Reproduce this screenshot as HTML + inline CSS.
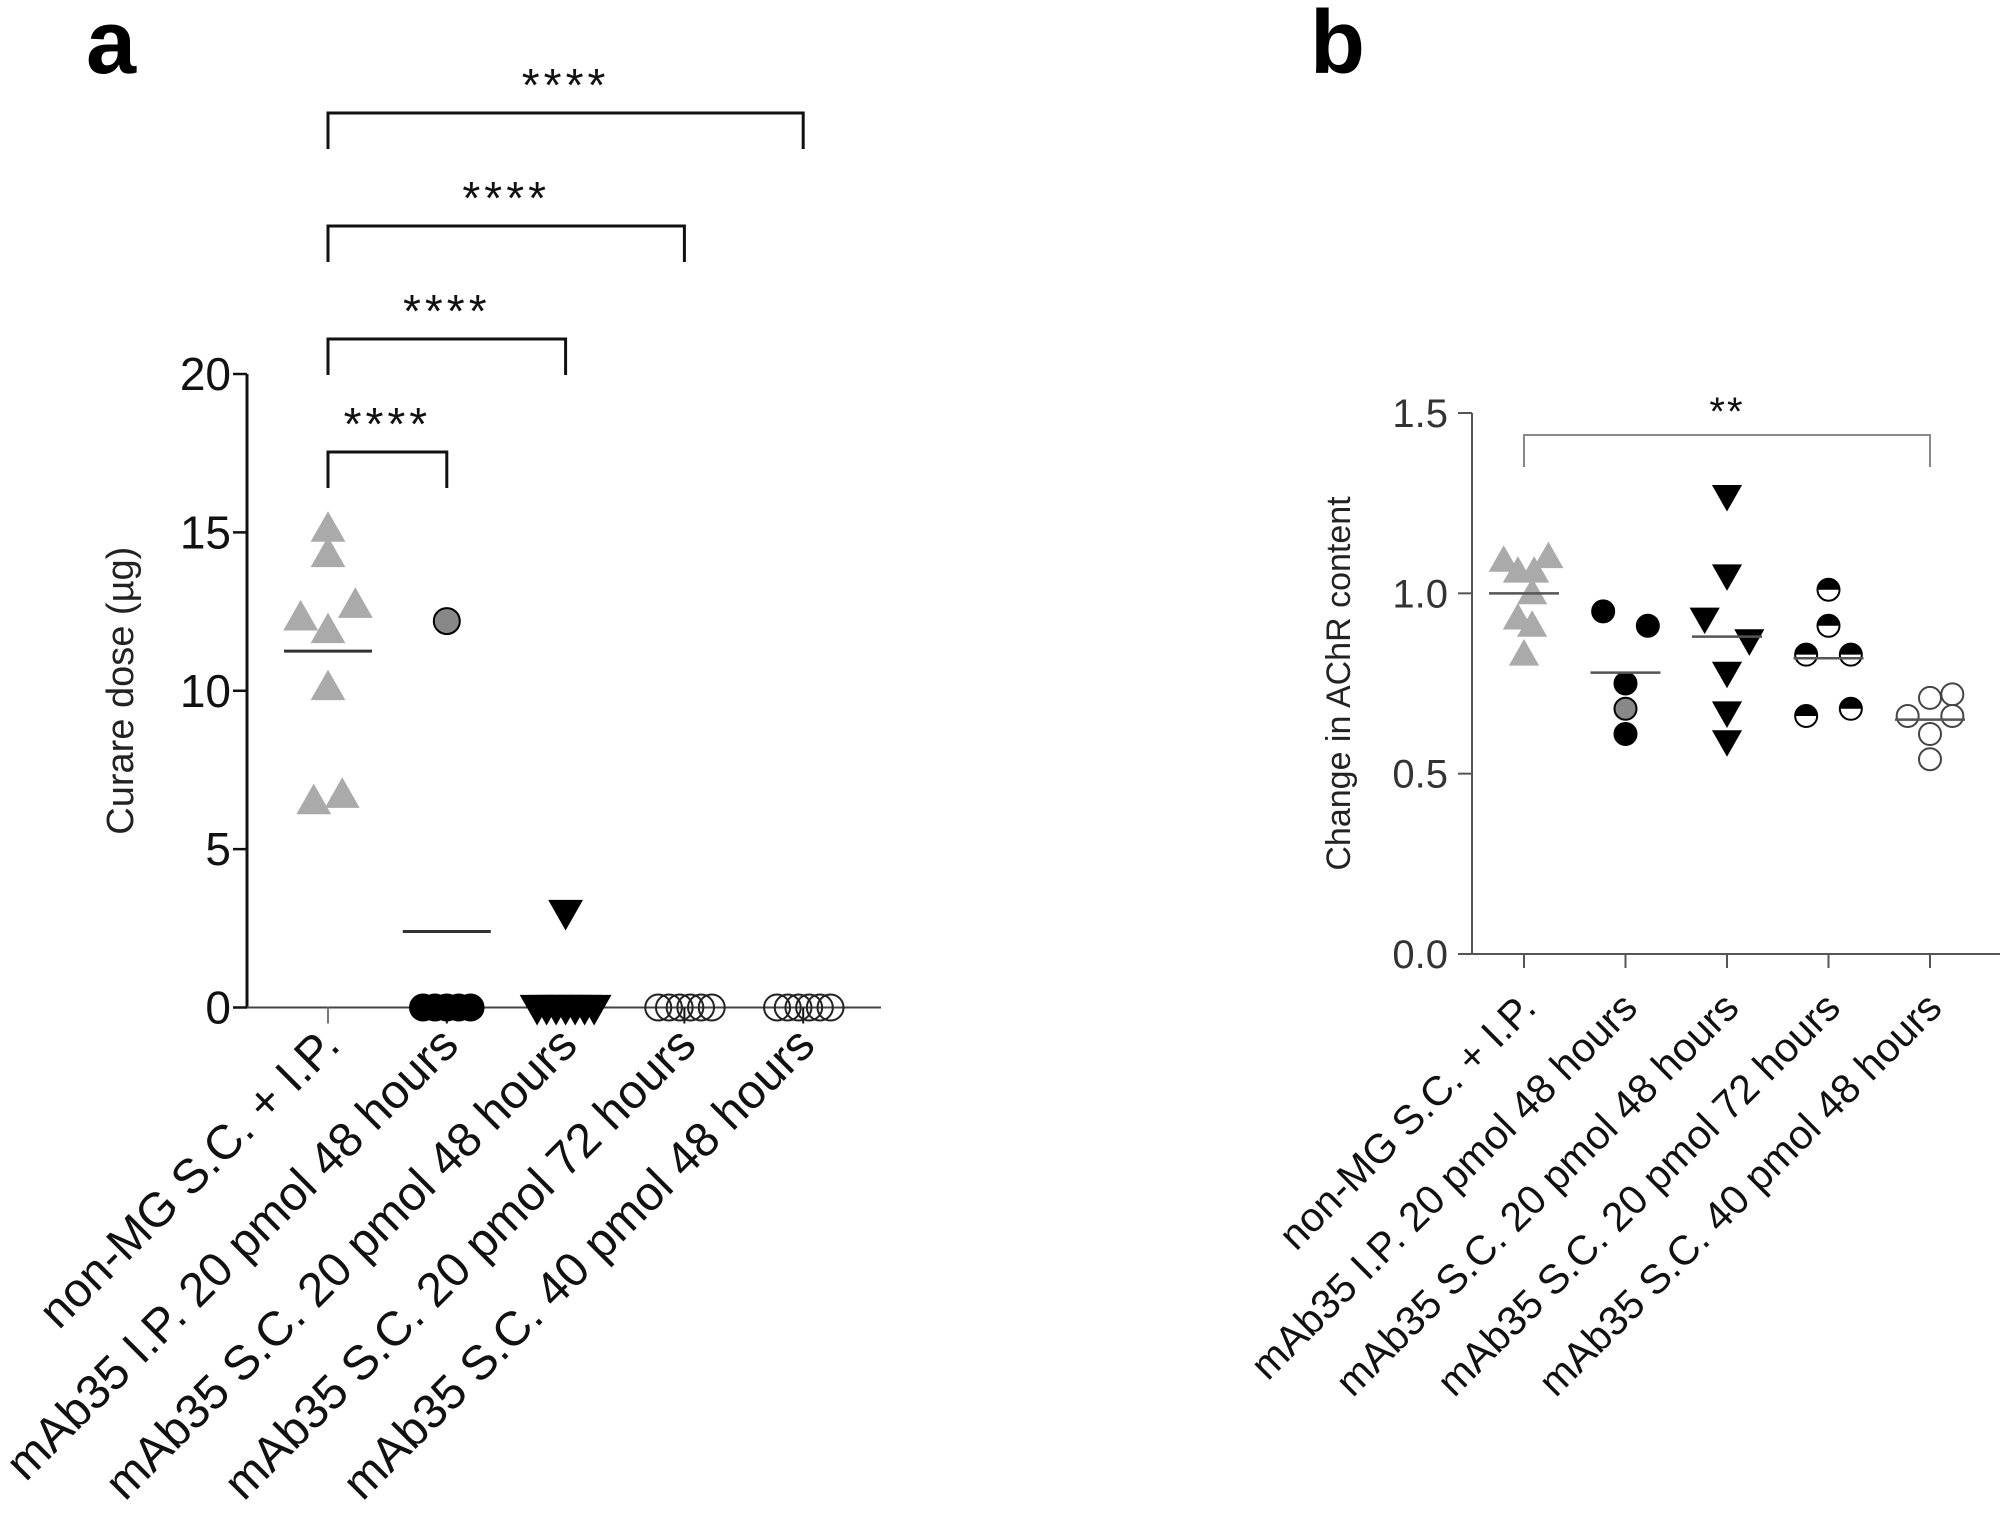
<!DOCTYPE html>
<html><head><meta charset="utf-8"><style>
html,body{margin:0;padding:0;background:#fff;}
svg{display:block;font-family:"Liberation Sans",Arial,sans-serif;}
</style></head><body>
<svg id="fig" width="2008" height="1536" viewBox="0 0 2008 1536">
<text x="86" y="73" font-size="90" font-weight="bold">a</text>
<text x="1310" y="73" font-size="90" font-weight="bold">b</text>
<g id="pa"></g>
<g id="pb"></g>
</svg>
<script>
const categories = ["non-MG S.C. + I.P.","mAb35 I.P. 20 pmol 48 hours","mAb35 S.C. 20 pmol 48 hours","mAb35 S.C. 20 pmol 72 hours","mAb35 S.C. 40 pmol 48 hours"];
// Panel a values (curare dose, µg)
const aG1 = [15.1,14.3,12.3,11.9,12.7,10.1,6.5,6.7];
const aG2 = [12.2,0,0,0,0,0];
const aG3 = [3.0,0,0,0,0,0,0,0];
const aG4 = [0,0,0,0,0,0];
const aG5 = [0,0,0,0,0,0];
const aMeans = [11.25,2.4,0.4,0,0];
const aTicks = [0,5,10,15,20];
const aSig = ["****","****","****","****"];
// Panel b values (change in AChR content)
const bG1 = [1.09,1.06,1.06,1.10,1.0,0.93,0.91,0.83];
const bG2 = [0.95,0.91,0.75,0.68,0.61];
const bG3 = [1.27,1.05,0.93,0.87,0.78,0.67,0.59];
const bG4 = [1.01,0.91,0.83,0.83,0.66,0.68];
const bG5 = [0.71,0.72,0.66,0.66,0.61,0.54];
const bMeans = [1.0,0.78,0.88,0.82,0.65];
const bTicks = [0,0.5,1.0,1.5];
const bTickLabels = ["0.0","0.5","1.0","1.5"];
// jitter (fraction of category spacing)
const aJit = [[0,0,-0.23,0,0.23,0,-0.12,0.12],[0,-0.2,-0.1,0,0.1,0.2],[0,-0.24,-0.16,-0.08,0,0.08,0.16,0.24],[-0.22,-0.13,-0.04,0.05,0.14,0.23],[-0.22,-0.13,-0.04,0.05,0.14,0.23]];
const bJit = [[-0.2,-0.06,0.1,0.24,0.08,-0.06,0.08,0],[-0.22,0.22,0,0,0],[0,0,-0.22,0.22,0,0,0],[0,0,-0.22,0.22,-0.22,0.22],[0,0.22,-0.22,0.22,0,0]];

const NS="http://www.w3.org/2000/svg";
function mk(parent,tag,attrs,txt){const e=document.createElementNS(NS,tag);for(const k in attrs)e.setAttribute(k,attrs[k]);if(txt!==undefined)e.textContent=txt;parent.appendChild(e);return e;}

// ---------- Panel A ----------
const pa=document.getElementById('pa');
const aX0=247,aX1=881,aYTop=374,aYBot=1007.5,aCatX0=328,aCatStep=118.8;
const ay=v=>aYBot-(v/20)*(aYBot-aYTop);
const ax=i=>aCatX0+i*aCatStep;
let e;
e=mk(pa,'line',{x1:aX0,y1:aYTop,x2:aX0,y2:aYBot,stroke:'#111','stroke-width':3});

e=mk(pa,'line',{x1:aX0,y1:aYBot,x2:aX1,y2:aYBot,stroke:'#444','stroke-width':2});

aTicks.forEach(t=>{
  mk(pa,'line',{x1:aX0-14,y1:ay(t),x2:aX0,y2:ay(t),stroke:'#111','stroke-width':2.5});
  e=mk(pa,'text',{x:aX0-16,y:ay(t)+16,'font-size':46,'text-anchor':'end',fill:'#111'},String(t));
  
});
e=mk(pa,'text',{transform:`translate(133,${(aYTop+aYBot)/2+0}) rotate(-90)`,'font-size':38,'text-anchor':'middle',fill:'#222'},'Curare dose (µg)');

categories.forEach((c,i)=>{
  mk(pa,'line',{x1:ax(i),y1:aYBot,x2:ax(i),y2:aYBot+16,stroke:i==0?'#777':'#111','stroke-width':2});
  e=mk(pa,'text',{transform:`translate(${ax(i)+14},${aYBot+40}) rotate(-45)`,'font-size':48,'text-anchor':'end',fill:'#111'},c);
  
});
function triUp(g,x,y,s,fill){return mk(g,'path',{d:`M${x},${y-s*0.6} L${x+s*0.58},${y+s*0.42} L${x-s*0.58},${y+s*0.42} Z`,fill:fill});}
function triDn(g,x,y,s,fill){return mk(g,'path',{d:`M${x},${y+s*0.6} L${x+s*0.58},${y-s*0.42} L${x-s*0.58},${y-s*0.42} Z`,fill:fill});}
aG1.forEach((v,j)=>{e=triUp(pa,ax(0)+aJit[0][j]*aCatStep,ay(v),30,'#aaa');});
aG2.forEach((v,j)=>{e=mk(pa,'circle',{cx:ax(1)+aJit[1][j]*aCatStep,cy:ay(v),r:13,fill:j==0?'#888':'#000',stroke:'#000','stroke-width':2});});
aG3.forEach((v,j)=>{e=triDn(pa,ax(2)+aJit[2][j]*aCatStep,ay(v),30,'#000');});
aG4.forEach((v,j)=>{e=mk(pa,'circle',{cx:ax(3)+aJit[3][j]*aCatStep,cy:ay(v),r:13,fill:'none',stroke:'#222','stroke-width':2});});
aG5.forEach((v,j)=>{e=mk(pa,'circle',{cx:ax(4)+aJit[4][j]*aCatStep,cy:ay(v),r:13,fill:'none',stroke:'#222','stroke-width':2});});
aMeans.forEach((m,i)=>{if(m>0.5){e=mk(pa,'line',{x1:ax(i)-44,y1:ay(m),x2:ax(i)+44,y2:ay(m),stroke:'#333','stroke-width':3});}});
const aBrY=[452,339,226,113];
aSig.forEach((s,k)=>{
  const xr=ax(k+1),yb=aBrY[k];
  e=mk(pa,'path',{d:`M${ax(0)},${yb+36} V${yb} H${xr} V${yb+36}`,fill:'none',stroke:'#111','stroke-width':3});
  
  e=mk(pa,'text',{x:(ax(0)+xr)/2,y:yb-12,'font-size':46,'text-anchor':'middle','letter-spacing':4,fill:'#111'},s);
  
});

// ---------- Panel B ----------
const pb=document.getElementById('pb');
const bX0=1472,bX1=2000,bYTop=413,bYBot=954,bCatX0=1524,bCatStep=101.5;
const by=v=>bYBot-(v/1.5)*(bYBot-bYTop);
const bx=i=>bCatX0+i*bCatStep;
e=mk(pb,'line',{x1:bX0,y1:bYTop,x2:bX0,y2:bYBot,stroke:'#555','stroke-width':2});

e=mk(pb,'line',{x1:bX0,y1:bYBot,x2:bX1,y2:bYBot,stroke:'#555','stroke-width':2});

bTicks.forEach((t,k)=>{
  mk(pb,'line',{x1:bX0-14,y1:by(t),x2:bX0,y2:by(t),stroke:'#555','stroke-width':2});
  e=mk(pb,'text',{x:bX0-24,y:by(t)+14,'font-size':40,'text-anchor':'end',fill:'#333'},bTickLabels[k]);
  
});
e=mk(pb,'text',{transform:`translate(1350,${(bYTop+bYBot)/2+0}) rotate(-90)`,'font-size':34,'text-anchor':'middle',fill:'#222'},'Change in AChR content');

categories.forEach((c,i)=>{
  mk(pb,'line',{x1:bx(i),y1:bYBot,x2:bx(i),y2:bYBot+14,stroke:'#555','stroke-width':2});
  e=mk(pb,'text',{transform:`translate(${bx(i)+14},${bYBot+56}) rotate(-45)`,'font-size':41,'text-anchor':'end',fill:'#111'},c);
  
});
const bs=bCatStep;
bG1.forEach((v,j)=>{e=triUp(pb,bx(0)+bJit[0][j]*bs,by(v),26,'#aaa');});
bG2.forEach((v,j)=>{e=mk(pb,'circle',{cx:bx(1)+bJit[1][j]*bs,cy:by(v),r:11,fill:j==3?'#888':'#000',stroke:'#000','stroke-width':2});});
bG3.forEach((v,j)=>{e=triDn(pb,bx(2)+bJit[2][j]*bs,by(v),26,'#000');});
bG4.forEach((v,j)=>{
  const cx=bx(3)+bJit[3][j]*bs,cy=by(v);
  e=mk(pb,'circle',{cx:cx,cy:cy,r:11,fill:'#fff',stroke:'#000','stroke-width':2});
  
  mk(pb,'path',{d:`M${cx-11},${cy} A11,11 0 0 1 ${cx+11},${cy} Z`,fill:'#000'});
});
bG5.forEach((v,j)=>{e=mk(pb,'circle',{cx:bx(4)+bJit[4][j]*bs,cy:by(v),r:11,fill:'#fff',stroke:'#444','stroke-width':2});});
bMeans.forEach((m,i)=>{e=mk(pb,'line',{x1:bx(i)-35,y1:by(m),x2:bx(i)+35,y2:by(m),stroke:'#555','stroke-width':2.5});});
e=mk(pb,'path',{d:`M${bx(0)},${467} V${435} H${bx(4)} V${467}`,fill:'none',stroke:'#888','stroke-width':2});

e=mk(pb,'text',{x:(bx(0)+bx(4))/2,y:425,'font-size':40,'text-anchor':'middle','letter-spacing':2,fill:'#111'},'**');

</script>
</body></html>
